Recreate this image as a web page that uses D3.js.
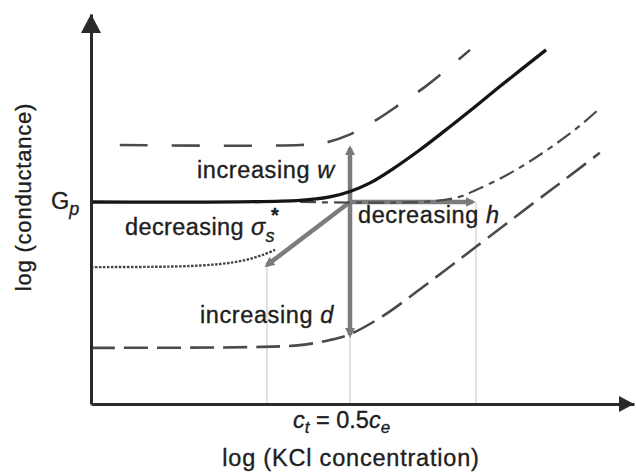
<!DOCTYPE html>
<html>
<head>
<meta charset="utf-8">
<script src="https://cdn.jsdelivr.net/npm/d3@7"></script>
<style>
  html, body { margin: 0; padding: 0; background: #fff; }
  svg { display: block; font-family: "Liberation Sans", Arial, Helvetica, sans-serif; }
</style>
</head>
<body>
<svg id="chart" width="636" height="473"></svg>
<script>
// Schematic: log(conductance) vs log(KCl concentration), both in arbitrary log units.

// Reference curve (plateau at Gp, then bulk-controlled rise)
const baseX = [0, 3.85, 4.40, 4.77, 5.14, 5.56, 6.06, 6.50, 6.98, 7.51, 8.38];
const baseY = [5.18, 5.22, 5.31, 5.45, 5.67, 6.03, 6.52, 6.99, 7.52, 8.12, 9.08];

// Increasing w
const wX = [0.53, 3.85, 4.31, 4.75, 5.25, 5.69, 6.17, 6.59, 6.98];
const wY = [6.64, 6.64, 6.70, 6.90, 7.28, 7.69, 8.15, 8.62, 9.08];

// Decreasing sigma_s*
const sigX = [0, 1.64, 2.38, 2.84, 3.15, 3.39];
const sigY = [3.51, 3.53, 3.59, 3.69, 3.82, 3.95];

// Decreasing h
const hX = [3.85, 6.20, 6.78, 7.09, 7.59, 8.07, 8.56, 8.99, 9.37];
const hY = [5.18, 5.19, 5.31, 5.49, 5.82, 6.21, 6.67, 7.12, 7.58];

// Increasing d
const dX = [0, 2.93, 3.85, 4.40, 4.77, 5.38, 5.99, 6.59, 7.09, 8.08, 8.73, 9.37];
const dY = [1.44, 1.46, 1.51, 1.64, 1.79, 2.26, 2.87, 3.50, 4.03, 5.08, 5.76, 6.44];

// Operating point (c_t, Gp) and where each parameter arrow ends
const pivot = [4.77, 5.18];
const arrowEnds = {
  w:     [4.77, 6.56],
  d:     [4.77, 1.77],
  h:     [7.03, 5.18],
  sigma: [3.24, 3.56]
};

// Vertical guide lines: x and top y
const guideX = [3.24, 4.77, 7.09];
const guideTop = [3.56, 1.77, 5.18];

const svg = d3.select("#chart");
const x = d3.scaleLinear().domain([0, 10]).range([91, 634]);
const y = d3.scaleLinear().domain([0, 10]).range([404, 14]);

const zip = (xs, ys) => xs.map((v, i) => [v, ys[i]]);
const line = d3.line().x(d => x(d[0])).y(d => y(d[1])).curve(d3.curveCatmullRom.alpha(0.5));

// Guides
svg.append("g").selectAll("line").data(guideX).join("line")
  .attr("x1", d => x(d)).attr("x2", d => x(d))
  .attr("y1", (d, i) => y(guideTop[i])).attr("y2", y(0))
  .attr("stroke", "#c4c4c4").attr("stroke-width", 1);

// Gray parameter arrows
const defs = svg.append("defs");
defs.append("marker").attr("id", "grayHead")
  .attr("viewBox", "0 0 10 10").attr("refX", 7).attr("refY", 5)
  .attr("markerWidth", 2.2).attr("markerHeight", 2.2).attr("orient", "auto")
  .append("path").attr("d", "M0,0 L10,5 L0,10 Z").attr("fill", "#7a7a7a");

svg.append("g").selectAll("line").data(Object.values(arrowEnds)).join("line")
  .attr("x1", x(pivot[0])).attr("y1", y(pivot[1]))
  .attr("x2", d => x(d[0])).attr("y2", d => y(d[1]))
  .attr("stroke", "#7c7c7c").attr("stroke-width", 4.5)
  .attr("marker-end", "url(#grayHead)");

// Curves
const curves = svg.append("g").attr("fill", "none");
curves.append("path").attr("d", line(zip(wX, wY)))
  .attr("stroke", "#4a4a4a").attr("stroke-width", 2.6).attr("stroke-dasharray", "28,24");
curves.append("path").attr("d", line(zip(dX, dY)))
  .attr("stroke", "#4a4a4a").attr("stroke-width", 2.6).attr("stroke-dasharray", "24,9");
curves.append("path").attr("d", line(zip(hX, hY)))
  .attr("stroke", "#4a4a4a").attr("stroke-width", 2.2).attr("stroke-dasharray", "16,6,6,6");
curves.append("path").attr("d", line(zip(sigX, sigY)))
  .attr("stroke", "#444").attr("stroke-width", 2.4).attr("stroke-dasharray", "2.5,1.5");

// Main curve on top
curves.append("path").attr("d", line(zip(baseX, baseY)))
  .attr("stroke", "#151515").attr("stroke-width", 3.3);

// Axes (line only, with arrowheads)
const axisColor = "#2a2a2a";
const gx = svg.append("g").attr("transform", `translate(0,${y(0)})`)
  .call(d3.axisBottom(x).tickValues([]).tickSizeOuter(0));
const gy = svg.append("g").attr("transform", `translate(${x(0)},0)`)
  .call(d3.axisLeft(y).tickValues([]).tickSizeOuter(0));
[gx, gy].forEach(g => g.select(".domain").attr("stroke", axisColor).attr("stroke-width", 3));

svg.append("path")
  .attr("d", `M${x(10)},${y(0)} L${x(10) - 15},${y(0) - 8} L${x(10) - 15},${y(0) + 8} Z`)
  .attr("fill", axisColor);
svg.append("path")
  .attr("d", `M${x(0)},${y(10)} L${x(0) - 10},${y(10) + 19} L${x(0) + 10},${y(10) + 19} Z`)
  .attr("fill", axisColor);

// Labels
const txt = svg.append("g").attr("fill", "#1e1e1e").attr("stroke", "#1e1e1e")
  .attr("stroke-width", 0.35).attr("font-size", 23.5);

const gp = txt.append("text").attr("x", 51).attr("y", 209);
gp.append("tspan").text("G");
gp.append("tspan").attr("font-style", "italic").attr("font-size", 18).attr("dy", 6).text("p");

const tw = txt.append("text").attr("x", 197).attr("y", 178).attr("letter-spacing", 0.6);
tw.append("tspan").text("increasing ");
tw.append("tspan").attr("font-style", "italic").text("w");

const ts = txt.append("text").attr("x", 125).attr("y", 235).attr("letter-spacing", 0.4);
ts.append("tspan").text("decreasing ");
ts.append("tspan").attr("font-style", "italic").text("σ");
ts.append("tspan").attr("font-style", "italic").attr("font-size", 18).attr("dy", 7).text("s");
ts.append("tspan").attr("font-size", 20).attr("font-weight", "bold").attr("dy", -20).attr("dx", -4).text("*");

const th = txt.append("text").attr("x", 358).attr("y", 223).attr("letter-spacing", 0.6);
th.append("tspan").text("decreasing ");
th.append("tspan").attr("font-style", "italic").text("h");

const td = txt.append("text").attr("x", 200).attr("y", 323).attr("letter-spacing", 0.6);
td.append("tspan").text("increasing ");
td.append("tspan").attr("font-style", "italic").text("d");

const tc = txt.append("text").attr("x", 293).attr("y", 428);
tc.append("tspan").attr("font-style", "italic").text("c");
tc.append("tspan").attr("font-style", "italic").attr("font-size", 17).attr("dy", 5).text("t");
tc.append("tspan").attr("dy", -5).text(" = 0.5");
tc.append("tspan").attr("font-style", "italic").text("c");
tc.append("tspan").attr("font-style", "italic").attr("font-size", 17).attr("dy", 5).text("e");

txt.append("text").attr("x", 351).attr("y", 466).attr("text-anchor", "middle")
  .attr("letter-spacing", 0.8).text("log (KCl concentration)");

txt.append("text").attr("transform", "translate(31,197) rotate(-90)")
  .attr("text-anchor", "middle").attr("font-size", 22).attr("letter-spacing", 0.8)
  .text("log (conductance)");
</script>
</body>
</html>
